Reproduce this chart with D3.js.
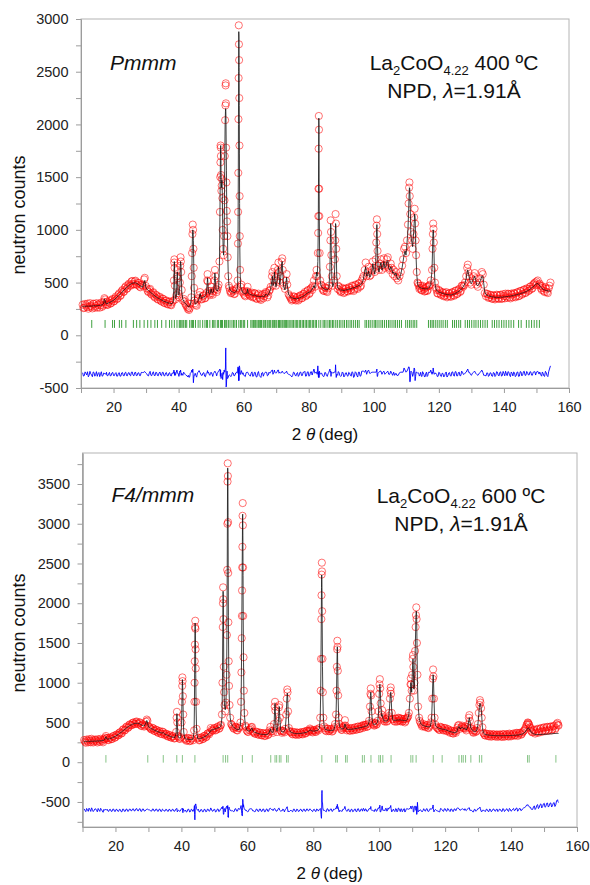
<!DOCTYPE html>
<html lang="en">
<head>
<meta charset="UTF-8">
<title>La2CoO4.22 neutron powder diffraction</title>
<script src="https://d3js.org/d3.v7.min.js"></script>
<style>
  body { margin: 0; background: #fff; }
  svg { display: block; font-family: "Liberation Sans", Arial, sans-serif; }
  .frame { fill: none; stroke: #b4b4b4; }
  .axis path, .axis line { stroke: #9c9c9c; }
  .axis text { font-size: 14.5px; fill: #222; font-family: "Liberation Sans", Arial, sans-serif; }
  .obs { fill: none; stroke: #ff0000; stroke-opacity: 0.62; stroke-width: 0.9; }
  .calc { fill: none; stroke: #111; stroke-width: 0.8; }
  .diff { fill: none; stroke: #0000ff; stroke-width: 0.9; }
  .bragg { stroke: #108a10; stroke-width: 1; }
  .label { font-size: 18px; fill: #111; }
  .note { font-size: 21px; fill: #111; }
</style>
</head>
<body>
<svg id="chart" width="590" height="885"></svg>
<script>
// axis ticks
const xTickLabels = [20, 40, 60, 80, 100, 120, 140, 160];
const xMinorTicks = [10, 30, 50, 70, 90, 110, 130, 150];
const topYTicks = [-500, 0, 500, 1000, 1500, 2000, 2500, 3000];
const topYMinor = [-250, 250, 750, 1250, 1750, 2250, 2750];
const bottomYTicks = [-500, 0, 500, 1000, 1500, 2000, 2500, 3000, 3500];
const bottomYMinor = [-750, -250, 250, 750, 1250, 1750, 2250, 2750, 3250, 3750];

// 400 C, Pmmm : [2theta, Iobs, Icalc]
const topProfile = [
  [10.5, 290, 275], [11.0, 262, 275], [11.5, 285, 276], [12.0, 300, 276], [12.5, 268, 277],
  [13.0, 281, 277], [13.5, 255, 278], [14.0, 296, 279], [14.5, 278, 280], [15.0, 262, 281],
  [15.5, 300, 283], [16.0, 286, 285], [16.5, 270, 288], [17.0, 318, 305], [17.2, 352, 345],
  [17.4, 340, 330], [17.7, 296, 298], [18.0, 288, 300], [18.5, 312, 308], [19.0, 300, 315],
  [19.5, 335, 322], [20.0, 320, 332], [20.5, 352, 345], [21.0, 342, 360], [21.5, 385, 375],
  [22.0, 372, 390], [22.5, 418, 405], [23.0, 410, 422], [23.5, 452, 438], [24.0, 440, 452],
  [24.5, 478, 466], [25.0, 472, 480], [25.5, 510, 490], [26.0, 488, 496], [26.5, 512, 498],
  [27.0, 482, 494], [27.5, 498, 485], [28.0, 462, 474], [28.5, 478, 462], [29.0, 470, 458],
  [29.4, 530, 505], [29.6, 545, 520], [29.9, 468, 455], [30.5, 420, 432], [31.0, 432, 418],
  [31.5, 395, 405], [32.0, 402, 390], [32.5, 368, 378], [33.0, 385, 366], [33.5, 345, 356],
  [34.0, 360, 347], [34.5, 330, 338], [35.0, 348, 330], [35.5, 310, 323], [36.0, 328, 316],
  [36.5, 298, 310], [37.0, 315, 305], [37.5, 290, 302], [38.0, 312, 300], [38.4, 330, 320],
  [38.55, 520, 480], [38.65, 690, 660], [38.7, 720, 700], [38.75, 640, 650], [38.85, 470, 450],
  [39.0, 340, 350], [39.3, 380, 360], [39.5, 560, 520], [39.6, 620, 600], [39.7, 540, 530],
  [39.85, 400, 390], [40.1, 360, 380], [40.4, 500, 470], [40.5, 660, 640], [40.6, 740, 700],
  [40.7, 700, 680], [40.8, 600, 610], [40.95, 430, 420], [41.3, 330, 340], [41.8, 320, 310],
  [42.3, 285, 295], [42.8, 250, 275], [43.2, 240, 270], [43.6, 300, 290], [43.9, 360, 340],
  [44.05, 560, 520], [44.15, 780, 760], [44.25, 960, 940], [44.35, 1050, 1000], [44.45, 1000, 990],
  [44.55, 820, 900], [44.65, 640, 680], [44.75, 450, 460], [44.9, 330, 340], [45.3, 290, 300],
  [45.8, 330, 315], [46.3, 380, 345], [46.6, 410, 395], [47.0, 340, 350], [47.5, 372, 360],
  [48.0, 350, 368], [48.5, 400, 390], [48.8, 520, 500], [48.9, 580, 545], [49.0, 510, 500],
  [49.2, 420, 400], [49.6, 380, 390], [50.0, 460, 440], [50.3, 400, 400], [50.7, 420, 410],
  [51.0, 520, 500], [51.15, 620, 590], [51.3, 560, 540], [51.5, 440, 430], [51.9, 430, 420],
  [52.3, 480, 450], [52.55, 700, 660], [52.7, 1170, 1120], [52.8, 1500, 1480], [52.85, 1640, 1660],
  [52.9, 1800, 1760], [52.95, 1780, 1800], [53.0, 1700, 1720], [53.05, 1520, 1560], [53.15, 1370, 1400],
  [53.25, 1420, 1440], [53.35, 1480, 1470], [53.45, 1300, 1320], [53.55, 1000, 1050], [53.7, 820, 800],
  [53.85, 760, 760], [54.0, 940, 900], [54.1, 1280, 1250], [54.2, 1700, 1680], [54.3, 2040, 2000],
  [54.4, 2180, 2120], [54.45, 2370, 2150], [54.5, 2390, 2140], [54.55, 2200, 2080], [54.6, 1780, 1900],
  [54.7, 1450, 1560], [54.8, 1180, 1200], [54.9, 1080, 1050], [55.0, 940, 980], [55.1, 740, 780],
  [55.25, 560, 590], [55.45, 470, 480], [55.8, 420, 430], [56.3, 405, 415], [56.8, 420, 408],
  [57.3, 395, 405], [57.8, 440, 420], [58.15, 520, 480], [58.25, 870, 800], [58.3, 1170, 1100],
  [58.35, 1540, 1500], [58.4, 2050, 2000], [58.45, 2440, 2500], [58.5, 2940, 2880], [58.55, 2760, 2820],
  [58.6, 2610, 2540], [58.65, 2250, 2180], [58.7, 1800, 1720], [58.75, 1320, 1250], [58.8, 940, 880],
  [58.9, 620, 620], [59.05, 460, 460], [59.3, 480, 445], [59.6, 410, 410], [60.0, 395, 400],
  [60.5, 370, 392], [61.0, 420, 400], [61.2, 460, 440], [61.4, 410, 400], [61.8, 380, 390],
  [62.3, 395, 385], [62.8, 360, 380], [63.3, 400, 382], [63.8, 350, 372], [64.3, 380, 370],
  [64.8, 355, 368], [65.3, 335, 365], [65.8, 390, 372], [66.3, 370, 365], [66.8, 410, 390],
  [67.3, 360, 375], [67.8, 420, 400], [68.3, 460, 440], [68.7, 560, 520], [68.85, 600, 560],
  [69.0, 470, 470], [69.3, 520, 500], [69.45, 640, 600], [69.6, 560, 540], [69.9, 470, 460],
  [70.2, 520, 500], [70.5, 620, 580], [70.7, 690, 650], [70.85, 600, 590], [71.1, 500, 480],
  [71.4, 560, 550], [71.7, 700, 680], [71.85, 730, 700], [72.0, 620, 600], [72.3, 470, 460],
  [72.7, 440, 430], [73.0, 520, 500], [73.2, 580, 550], [73.4, 480, 470], [73.8, 390, 390],
  [74.3, 360, 365], [74.8, 330, 355], [75.3, 370, 350], [75.8, 340, 348], [76.3, 355, 346],
  [76.8, 330, 350], [77.3, 375, 356], [77.8, 350, 362], [78.3, 390, 370], [78.8, 410, 382],
  [79.3, 380, 395], [79.8, 430, 405], [80.3, 400, 412], [80.8, 450, 425], [81.3, 470, 450],
  [81.6, 520, 470], [81.9, 460, 450], [82.2, 560, 540], [82.4, 620, 600], [82.6, 560, 560],
  [82.8, 780, 700], [82.9, 970, 940], [82.95, 1130, 1150], [83.0, 1390, 1420], [83.05, 1770, 1750],
  [83.1, 2080, 2060], [83.15, 1950, 1980], [83.2, 1390, 1420], [83.25, 1130, 1100], [83.35, 780, 760],
  [83.5, 520, 520], [83.8, 480, 470], [84.2, 440, 450], [84.7, 420, 440], [85.2, 450, 435],
  [85.7, 410, 430], [86.2, 470, 450], [86.5, 650, 600], [86.65, 900, 880], [86.75, 1090, 1060],
  [86.85, 980, 1000], [86.95, 760, 740], [87.1, 560, 540], [87.4, 470, 460], [87.8, 520, 500],
  [88.05, 720, 700], [88.15, 900, 880], [88.25, 1150, 1060], [88.35, 1060, 1040], [88.45, 820, 850],
  [88.6, 560, 560], [88.9, 440, 450], [89.3, 460, 440], [89.8, 410, 430], [90.3, 450, 428],
  [90.8, 400, 425], [91.3, 440, 428], [91.8, 420, 432], [92.3, 455, 436], [92.8, 430, 440],
  [93.3, 470, 446], [93.8, 420, 450], [94.3, 480, 456], [94.8, 450, 462], [95.3, 490, 470],
  [95.8, 460, 478], [96.3, 520, 490], [96.8, 560, 530], [97.2, 620, 600], [97.5, 690, 650],
  [97.8, 560, 560], [98.1, 600, 570], [98.4, 650, 610], [98.7, 560, 550], [99.0, 570, 560],
  [99.4, 620, 600], [99.7, 700, 680], [100.0, 640, 620], [100.3, 600, 580], [100.6, 720, 700],
  [100.75, 880, 860], [100.85, 1040, 1000], [100.95, 1100, 1050], [101.05, 960, 980], [101.15, 800, 820],
  [101.3, 660, 650], [101.6, 620, 600], [101.9, 680, 650], [102.2, 720, 690], [102.5, 620, 620],
  [102.8, 660, 640], [103.1, 730, 700], [103.4, 640, 640], [103.7, 660, 650], [104.0, 720, 700],
  [104.3, 740, 710], [104.6, 640, 640], [104.9, 620, 620], [105.2, 680, 650], [105.5, 640, 630],
  [105.8, 580, 590], [106.1, 620, 600], [106.4, 560, 570], [106.8, 600, 590], [107.1, 540, 550],
  [107.5, 520, 530], [107.9, 560, 545], [108.3, 600, 580], [108.7, 660, 640], [109.0, 720, 700],
  [109.3, 820, 760], [109.6, 840, 800], [109.9, 780, 760], [110.2, 900, 870], [110.5, 1050, 1000],
  [110.7, 1250, 1180], [110.85, 1400, 1330], [110.95, 1450, 1400], [111.05, 1320, 1390], [111.2, 1150, 1220],
  [111.4, 980, 950], [111.7, 900, 880], [111.95, 820, 840], [112.2, 960, 950], [112.4, 1120, 1060],
  [112.55, 1200, 1150], [112.7, 1060, 1120], [112.85, 900, 920], [113.0, 760, 740], [113.2, 600, 580],
  [113.45, 500, 490], [113.8, 470, 460], [114.2, 450, 455], [114.6, 430, 448], [115.0, 470, 445],
  [115.4, 440, 442], [115.8, 420, 440], [116.2, 460, 440], [116.6, 430, 442], [117.0, 470, 450],
  [117.5, 520, 480], [117.9, 620, 620], [118.05, 820, 800], [118.15, 960, 950], [118.25, 1060, 1000],
  [118.35, 1010, 980], [118.45, 880, 860], [118.6, 640, 640], [118.8, 500, 490], [119.1, 450, 440],
  [119.5, 400, 420], [120.0, 430, 410], [120.5, 390, 405], [121.0, 410, 400], [121.5, 370, 395],
  [122.0, 400, 390], [122.5, 360, 386], [123.0, 395, 384], [123.5, 370, 382], [124.0, 405, 384],
  [124.5, 380, 390], [125.0, 420, 396], [125.5, 390, 405], [126.0, 430, 414], [126.5, 410, 425],
  [127.0, 470, 440], [127.5, 460, 460], [128.0, 500, 490], [128.4, 560, 540], [128.7, 640, 600],
  [128.9, 670, 620], [129.1, 600, 580], [129.4, 560, 540], [129.7, 500, 500], [130.0, 480, 490],
  [130.3, 520, 510], [130.7, 560, 540], [131.0, 590, 560], [131.3, 540, 530], [131.6, 480, 480],
  [132.0, 460, 470], [132.4, 500, 490], [132.8, 540, 520], [133.2, 600, 560], [133.5, 580, 560],
  [133.8, 480, 490], [134.1, 400, 410], [134.5, 370, 385], [135.0, 390, 378], [135.5, 360, 372],
  [136.0, 380, 368], [136.5, 345, 364], [137.0, 375, 362], [137.5, 350, 360], [138.0, 380, 360],
  [138.5, 345, 360], [139.0, 385, 362], [139.5, 350, 362], [140.0, 372, 364], [140.5, 395, 366],
  [141.0, 355, 368], [141.5, 390, 370], [142.0, 350, 372], [142.5, 385, 375], [143.0, 400, 378],
  [143.5, 360, 382], [144.0, 405, 386], [144.5, 370, 390], [145.0, 420, 395], [145.5, 385, 400],
  [146.0, 430, 405], [146.5, 400, 410], [147.0, 445, 418], [147.5, 420, 426], [148.0, 460, 436],
  [148.5, 440, 448], [149.0, 480, 460], [149.5, 500, 475], [150.0, 510, 488], [150.4, 520, 492],
  [150.8, 480, 478], [151.2, 470, 460], [151.6, 430, 448], [152.0, 450, 438], [152.5, 410, 430],
  [153.0, 440, 425], [153.5, 400, 422], [154.0, 470, 420], [154.3, 500, 420]
];

// extra background steps of the 400 C scan
const topProfileFill = [
  [10.75, 258, 275], [11.25, 298, 275], [11.75, 270, 276], [12.25, 252, 276], [12.75, 305, 277],
  [13.25, 272, 278], [13.75, 300, 278], [14.25, 262, 280], [14.75, 305, 280], [15.25, 288, 282],
  [15.75, 262, 284], [16.25, 310, 286], [16.75, 282, 295], [17.85, 318, 299], [18.25, 290, 304],
  [18.75, 330, 312], [19.25, 305, 318], [19.75, 345, 327], [20.25, 325, 338], [20.75, 368, 352],
  [21.25, 350, 367], [21.75, 398, 382], [22.25, 380, 397], [22.75, 430, 413], [23.25, 415, 430],
  [23.75, 465, 445], [24.25, 445, 459], [24.75, 490, 473], [25.25, 470, 485], [25.75, 515, 493],
  [26.25, 482, 497], [26.75, 518, 496], [27.25, 478, 490], [27.75, 495, 480], [28.25, 455, 468],
  [28.75, 480, 460], [30.2, 445, 440], [30.75, 410, 425], [31.25, 440, 412], [31.75, 385, 398],
  [32.25, 408, 384], [32.75, 358, 372], [33.25, 378, 361], [33.75, 338, 352], [34.25, 365, 343],
  [34.75, 320, 334], [35.25, 345, 326], [35.75, 305, 320], [36.25, 330, 313], [36.75, 292, 308],
  [37.25, 320, 304], [37.75, 285, 301], [41.55, 345, 325], [42.05, 300, 302], [42.55, 272, 285],
  [43.0, 262, 272], [43.4, 255, 280], [45.1, 305, 295], [45.55, 280, 307], [46.05, 350, 330],
  [47.25, 345, 355], [47.75, 380, 364], [48.25, 355, 378], [49.4, 395, 395], [49.8, 420, 410],
  [50.5, 385, 405], [51.7, 410, 425], [52.1, 455, 435], [55.6, 450, 455], [56.05, 400, 422],
  [56.55, 430, 412], [57.05, 390, 406], [57.55, 425, 412], [58.0, 450, 440], [59.8, 420, 405],
  [60.25, 380, 396], [60.75, 410, 396], [61.6, 390, 395], [62.05, 370, 388], [62.55, 405, 382],
  [63.05, 365, 381], [63.55, 395, 377], [64.05, 345, 371], [64.55, 395, 369], [65.05, 345, 366],
  [65.55, 380, 368], [66.05, 350, 368], [66.55, 395, 378], [67.05, 400, 382], [67.55, 380, 388],
  [68.05, 430, 420], [74.05, 375, 378], [74.55, 345, 360], [75.05, 340, 352], [75.55, 365, 349],
  [76.05, 330, 347], [76.55, 365, 348], [77.05, 345, 353], [77.55, 380, 359], [78.05, 355, 366],
  [78.55, 395, 376], [79.05, 370, 388], [79.55, 420, 400], [80.05, 390, 408], [80.55, 440, 418],
  [81.05, 430, 437], [84.0, 470, 460], [84.45, 425, 445], [84.95, 455, 438], [85.45, 420, 432],
  [85.95, 445, 440], [89.05, 470, 445], [89.55, 425, 435], [90.05, 415, 429], [90.55, 440, 426],
  [91.05, 410, 426], [91.55, 445, 430], [92.05, 415, 434], [92.55, 450, 438], [93.05, 425, 443],
  [93.55, 465, 448], [94.05, 435, 453], [94.55, 475, 459], [95.05, 440, 466], [95.55, 495, 474],
  [96.05, 470, 484], [96.55, 540, 510], [113.6, 490, 475], [114.0, 440, 457], [114.4, 470, 451],
  [114.8, 425, 446], [115.2, 455, 443], [115.6, 415, 441], [116.0, 450, 440], [116.4, 420, 441],
  [116.8, 465, 446], [117.25, 480, 465], [119.3, 430, 430], [119.75, 395, 415], [120.25, 420, 407],
  [120.75, 380, 402], [121.25, 405, 397], [121.75, 375, 392], [122.25, 410, 388], [122.75, 370, 385],
  [123.25, 400, 383], [123.75, 365, 383], [124.25, 410, 387], [124.75, 375, 393], [125.25, 425, 400],
  [125.75, 395, 410], [126.25, 440, 419], [126.75, 420, 432], [127.25, 470, 450], [127.75, 475, 475],
  [134.75, 395, 381], [135.25, 355, 375], [135.75, 385, 370], [136.25, 350, 366], [136.75, 380, 363],
  [137.25, 340, 361], [137.75, 385, 360], [138.25, 350, 360], [138.75, 380, 361], [139.25, 345, 362],
  [139.75, 390, 363], [140.25, 350, 365], [140.75, 370, 367], [141.25, 395, 369], [141.75, 360, 371],
  [142.25, 395, 373], [142.75, 360, 376], [143.25, 395, 380], [143.75, 370, 384], [144.25, 410, 388],
  [144.75, 375, 392], [145.25, 420, 397], [145.75, 395, 402], [146.25, 435, 407], [146.75, 405, 414],
  [147.25, 440, 422], [147.75, 425, 431], [148.25, 465, 442], [148.75, 445, 454], [149.25, 490, 467],
  [149.75, 475, 482], [151.0, 490, 469], [151.4, 445, 454], [151.8, 465, 443], [152.25, 420, 434],
  [152.75, 455, 427], [153.25, 410, 423], [153.75, 445, 421]
];

// Pmmm reflection positions (2theta)
const topBragg = [
  13.3, 17.4, 19.7, 20.3, 21.8, 22.5, 23.8, 26.1, 27.1, 28.1, 29.4, 30.5, 31.5, 32.7, 33.5,
  34.8, 36.1, 37.2, 37.9, 38.7, 39.5, 40.2, 40.5, 40.8, 41.3, 41.6, 42.1, 42.5, 43.4, 43.9,
  44.3, 44.6, 45.2, 46.0, 46.6, 47.4, 48.1, 48.6, 48.9, 49.6, 50.4, 50.8, 51.2, 51.9, 52.3,
  52.9, 53.2, 53.5, 54.1, 54.5, 54.8, 55.3, 55.8, 56.4, 56.9, 57.3, 57.8, 58.5, 59.0, 59.4,
  59.9, 60.3, 61.2, 62.2, 62.6, 63.0, 63.4, 63.7, 64.1, 64.5, 64.8, 65.2, 65.5, 66.0, 66.3,
  66.7, 67.2, 67.5, 67.9, 68.3, 68.8, 69.1, 69.5, 69.9, 70.2, 70.7, 71.0, 71.4, 71.8, 72.1,
  72.5, 72.9, 73.2, 73.6, 74.0, 74.5, 74.9, 75.3, 75.8, 76.2, 76.6, 77.1, 77.5, 78.0, 78.4,
  78.9, 79.3, 79.8, 80.2, 80.6, 81.1, 81.5, 82.0, 82.4, 83.1, 83.7, 84.4, 84.8, 85.3, 85.9,
  86.4, 86.8, 87.3, 87.7, 88.3, 88.8, 89.4, 89.9, 90.5, 91.0, 91.6, 92.1, 92.7, 93.2, 93.8,
  94.4, 95.0, 95.5, 97.3, 97.8, 98.4, 98.9, 99.5, 100.1, 100.5, 101.0, 101.6, 102.2, 102.7,
  103.3, 103.9, 104.5, 105.0, 105.6, 106.2, 106.7, 107.3, 107.9, 108.5, 109.8, 110.4, 111.0,
  111.5, 112.1, 112.6, 113.2, 116.8, 117.4, 117.9, 118.3, 118.9, 119.5, 120.1, 120.7, 121.3,
  122.0, 122.6, 124.2, 124.8, 125.4, 126.1, 126.7, 128.1, 128.8, 129.4, 130.1, 130.8, 131.4,
  132.1, 132.8, 133.5, 134.2, 134.9, 136.4, 137.1, 137.8, 138.5, 139.3, 140.0, 140.7, 141.5,
  142.2, 143.0, 144.5, 145.3, 146.9, 147.7, 148.5, 149.3, 150.1, 150.9
];

// 600 C, F4/mmm : [2theta, Iobs, Icalc]
const bottomProfile = [
  [10.5, 280, 262], [11.0, 245, 262], [11.5, 270, 263], [12.0, 290, 263], [12.5, 250, 264],
  [13.0, 275, 264], [13.5, 262, 265], [14.0, 285, 266], [14.5, 248, 267], [15.0, 272, 268],
  [15.5, 295, 270], [16.0, 265, 273], [16.5, 290, 278], [16.9, 310, 300], [17.1, 330, 320],
  [17.3, 300, 296], [17.7, 282, 290], [18.2, 305, 295], [18.7, 290, 302], [19.2, 325, 310],
  [19.7, 308, 320], [20.2, 345, 332], [20.7, 335, 346], [21.2, 372, 360], [21.7, 360, 376],
  [22.2, 408, 392], [22.7, 398, 410], [23.2, 440, 426], [23.7, 430, 442], [24.2, 470, 456],
  [24.7, 462, 468], [25.2, 495, 478], [25.7, 478, 486], [26.2, 508, 490], [26.7, 486, 490],
  [27.2, 500, 484], [27.7, 462, 474], [28.2, 478, 462], [28.7, 448, 455], [29.3, 510, 500],
  [29.5, 537, 525], [29.7, 520, 505], [30.0, 452, 445], [30.5, 430, 432], [31.0, 410, 420],
  [31.5, 425, 410], [32.0, 392, 400], [32.5, 405, 390], [33.0, 370, 382], [33.5, 388, 374],
  [34.0, 355, 368], [34.5, 378, 372], [35.0, 340, 352], [35.5, 355, 344], [36.0, 322, 336],
  [36.5, 338, 328], [37.0, 310, 320], [37.5, 325, 314], [38.0, 300, 310], [38.4, 380, 360],
  [38.55, 560, 540], [38.65, 634, 610], [38.75, 500, 520], [38.9, 330, 340], [39.3, 300, 305],
  [39.8, 315, 310], [40.05, 500, 480], [40.15, 760, 740], [40.25, 960, 940], [40.3, 1067, 1040],
  [40.35, 1020, 1000], [40.45, 830, 860], [40.55, 600, 580], [40.7, 380, 380], [41.0, 290, 300],
  [41.5, 270, 292], [42.0, 305, 290], [42.5, 265, 286], [43.0, 300, 286], [43.5, 275, 290],
  [43.85, 400, 380], [43.95, 760, 700], [44.0, 1000, 1050], [44.05, 1270, 1380], [44.1, 1480, 1600],
  [44.15, 1700, 1750], [44.2, 1780, 1730], [44.25, 1680, 1600], [44.3, 1420, 1350], [44.35, 1180, 1100],
  [44.45, 760, 700], [44.6, 420, 400], [44.9, 300, 300], [45.4, 275, 295], [45.9, 310, 300],
  [46.4, 290, 308], [46.9, 330, 318], [47.4, 312, 330], [47.9, 360, 345], [48.4, 350, 362],
  [48.9, 430, 400], [49.2, 410, 405], [49.6, 400, 410], [50.1, 430, 418], [50.6, 410, 425],
  [51.1, 450, 432], [51.6, 430, 440], [52.0, 470, 455], [52.3, 600, 560], [52.45, 1000, 980],
  [52.55, 1700, 1650], [52.6, 2000, 1950], [52.65, 2200, 2150], [52.7, 2050, 2080], [52.75, 1800, 1850],
  [52.85, 1200, 1250], [52.95, 880, 860], [53.1, 720, 700], [53.3, 640, 660], [53.5, 750, 720],
  [53.7, 1100, 1050], [53.8, 1600, 1550], [53.9, 2420, 2400], [53.95, 3000, 2950], [54.0, 3530, 3500],
  [54.05, 3760, 3700], [54.1, 3600, 3620], [54.15, 3020, 3100], [54.2, 2380, 2450], [54.25, 1760, 1850],
  [54.35, 1270, 1250], [54.45, 960, 920], [54.6, 720, 700], [54.8, 560, 560], [55.1, 480, 490],
  [55.5, 450, 455], [56.0, 420, 435], [56.5, 440, 420], [57.0, 400, 410], [57.5, 430, 408],
  [57.9, 500, 470], [58.1, 760, 700], [58.2, 1130, 1100], [58.3, 1560, 1600], [58.35, 1840, 1900],
  [58.4, 2160, 2220], [58.45, 2450, 2520], [58.5, 2710, 2780], [58.55, 3100, 3100], [58.6, 3260, 3120],
  [58.65, 2980, 2850], [58.7, 2450, 2350], [58.75, 1840, 1800], [58.85, 1320, 1250], [58.95, 900, 860],
  [59.1, 620, 600], [59.4, 460, 460], [59.8, 400, 410], [60.3, 380, 395], [60.8, 410, 392],
  [61.2, 440, 420], [61.4, 445, 430], [61.7, 385, 395], [62.2, 360, 378], [62.7, 385, 370],
  [63.2, 350, 362], [63.7, 372, 356], [64.2, 340, 352], [64.7, 365, 350], [65.2, 330, 348],
  [65.7, 360, 348], [66.2, 340, 352], [66.7, 400, 380], [67.0, 445, 420], [67.3, 390, 380],
  [67.8, 370, 375], [68.1, 480, 460], [68.3, 700, 680], [68.4, 760, 740], [68.5, 650, 640],
  [68.7, 430, 440], [69.0, 380, 390], [69.4, 520, 500], [69.6, 690, 660], [69.7, 718, 700],
  [69.85, 560, 560], [70.1, 400, 410], [70.5, 370, 380], [71.0, 390, 380], [71.5, 420, 410],
  [71.8, 600, 580], [71.95, 800, 760], [72.1, 915, 870], [72.2, 880, 860], [72.35, 640, 660],
  [72.6, 430, 440], [73.0, 380, 385], [73.5, 360, 372], [74.0, 380, 366], [74.5, 350, 362],
  [75.0, 375, 360], [75.5, 345, 360], [76.0, 372, 362], [76.5, 355, 364], [77.0, 380, 368],
  [77.5, 360, 372], [78.0, 395, 378], [78.5, 380, 388], [79.0, 424, 405], [79.4, 400, 398],
  [79.8, 375, 392], [80.3, 405, 392], [80.8, 380, 396], [81.3, 410, 400], [81.8, 430, 420],
  [82.1, 560, 540], [82.25, 900, 880], [82.35, 1300, 1350], [82.45, 1800, 1900], [82.5, 2100, 2200],
  [82.55, 2360, 2355], [82.6, 2510, 2300], [82.65, 2400, 2150], [82.7, 1900, 1800], [82.8, 1300, 1200],
  [82.9, 880, 850], [83.05, 560, 560], [83.3, 450, 450], [83.7, 400, 412], [84.2, 425, 405],
  [84.7, 390, 402], [85.2, 415, 400], [85.7, 385, 400], [86.2, 420, 405], [86.6, 480, 460],
  [86.9, 600, 580], [87.05, 900, 850], [87.15, 1200, 1150], [87.25, 1420, 1400], [87.3, 1528, 1452],
  [87.35, 1450, 1400], [87.45, 1150, 1100], [87.55, 840, 800], [87.7, 560, 560], [88.0, 450, 450],
  [88.5, 410, 420], [89.0, 430, 415], [89.4, 460, 440], [89.6, 529, 480], [89.8, 460, 450],
  [90.2, 400, 414], [90.7, 430, 412], [91.2, 395, 414], [91.7, 430, 416], [92.2, 405, 418],
  [92.7, 440, 422], [93.2, 410, 426], [93.7, 450, 430], [94.2, 420, 434], [94.7, 455, 438],
  [95.2, 470, 445], [95.6, 440, 450], [96.0, 470, 455], [96.5, 450, 462], [96.9, 520, 500],
  [97.2, 700, 680], [97.35, 860, 840], [97.45, 928, 880], [97.55, 840, 830], [97.7, 640, 640],
  [97.95, 500, 500], [98.3, 470, 475], [98.7, 490, 478], [99.1, 470, 482], [99.5, 520, 500],
  [99.8, 640, 620], [100.0, 860, 820], [100.1, 980, 950], [100.2, 1045, 980], [100.3, 930, 950],
  [100.45, 740, 760], [100.7, 600, 580], [100.9, 655, 600], [101.1, 560, 560], [101.5, 520, 520],
  [101.9, 540, 518], [102.3, 510, 520], [102.7, 560, 530], [103.0, 620, 600], [103.25, 800, 760],
  [103.4, 900, 860], [103.5, 941, 880], [103.6, 860, 840], [103.8, 620, 640], [104.1, 540, 540],
  [104.5, 520, 525], [105.0, 550, 528], [105.4, 510, 530], [105.8, 560, 532], [106.2, 530, 532],
  [106.6, 550, 530], [107.0, 510, 528], [107.4, 540, 525], [107.8, 500, 522], [108.2, 540, 525],
  [108.6, 560, 540], [109.0, 620, 600], [109.3, 800, 780], [109.5, 980, 950], [109.6, 1054, 1000],
  [109.7, 980, 960], [109.85, 900, 880], [110.0, 1100, 1050], [110.15, 1300, 1250], [110.25, 1348, 1300],
  [110.35, 1200, 1220], [110.5, 900, 920], [110.7, 1000, 950], [110.9, 1400, 1350], [111.05, 1700, 1650],
  [111.15, 1850, 1850], [111.25, 1948, 1900], [111.35, 1800, 1850], [111.45, 1500, 1550], [111.6, 1100, 1000],
  [111.8, 700, 720], [112.1, 560, 560], [112.5, 500, 492], [113.0, 450, 470], [113.5, 480, 460],
  [114.0, 440, 452], [114.5, 470, 448], [115.0, 430, 445], [115.5, 470, 448], [115.9, 560, 540],
  [116.1, 800, 780], [116.25, 1050, 1000], [116.35, 1167, 1100], [116.45, 1080, 1060], [116.6, 800, 820],
  [116.8, 560, 560], [117.1, 470, 460], [117.6, 430, 438], [118.1, 410, 428], [118.6, 445, 422],
  [119.0, 430, 418], [119.5, 400, 414], [120.0, 430, 410], [120.5, 390, 402], [121.0, 410, 394],
  [121.5, 370, 386], [122.0, 395, 380], [122.5, 360, 374], [123.0, 385, 370], [123.5, 400, 380],
  [123.9, 460, 430], [124.2, 470, 450], [124.5, 420, 420], [124.9, 440, 430], [125.2, 460, 440],
  [125.6, 430, 420], [126.0, 450, 430], [126.4, 400, 405], [126.9, 470, 450], [127.2, 560, 530],
  [127.35, 592, 560], [127.5, 520, 520], [127.8, 430, 430], [128.2, 400, 410], [128.6, 370, 390],
  [129.0, 400, 385], [129.5, 390, 395], [129.9, 480, 460], [130.2, 620, 600], [130.4, 720, 690],
  [130.55, 781, 740], [130.7, 750, 730], [130.9, 680, 690], [131.1, 560, 580], [131.3, 440, 440],
  [131.6, 370, 370], [132.0, 340, 352], [132.5, 360, 346], [133.0, 330, 342], [133.5, 355, 340],
  [134.0, 320, 338], [134.5, 350, 336], [135.0, 330, 335], [135.5, 345, 334], [136.0, 318, 334],
  [136.5, 350, 334], [137.0, 325, 334], [137.5, 355, 334], [138.0, 320, 335], [138.5, 348, 335],
  [139.0, 330, 336], [139.5, 360, 336], [140.0, 325, 337], [140.5, 352, 338], [141.0, 335, 339],
  [141.5, 365, 340], [142.0, 330, 342], [142.5, 368, 345], [143.0, 345, 350], [143.5, 375, 356],
  [144.0, 400, 368], [144.5, 440, 392], [144.9, 480, 420], [145.2, 495, 432], [145.5, 470, 420],
  [145.9, 430, 392], [146.3, 380, 370], [146.8, 400, 358], [147.3, 360, 350], [147.8, 410, 348],
  [148.3, 370, 348], [148.8, 420, 348], [149.3, 380, 350], [149.8, 430, 350], [150.3, 390, 352],
  [150.8, 440, 352], [151.3, 395, 354], [151.8, 445, 356], [152.3, 400, 358], [152.8, 450, 360],
  [153.3, 410, 362], [153.8, 480, 362], [154.1, 495, 362], [154.4, 460, 362]
];

// extra background steps of the 600 C scan
const bottomProfileFill = [
  [10.75, 260, 262], [11.25, 285, 262], [11.75, 250, 263], [12.25, 272, 263], [12.75, 295, 264],
  [13.25, 248, 264], [13.75, 282, 265], [14.25, 265, 266], [14.75, 290, 267], [15.25, 255, 269],
  [15.75, 280, 271], [16.25, 250, 275], [16.7, 285, 285], [17.5, 305, 292], [17.95, 278, 292],
  [18.45, 310, 298], [18.95, 292, 306], [19.45, 330, 315], [19.95, 312, 326], [20.45, 350, 339],
  [20.95, 340, 353], [21.45, 378, 368], [21.95, 365, 384], [22.45, 415, 401], [22.95, 405, 418],
  [23.45, 450, 434], [23.95, 438, 449], [24.45, 478, 462], [24.95, 468, 473], [25.45, 500, 482],
  [25.95, 482, 488], [26.45, 512, 490], [26.95, 480, 487], [27.45, 500, 479], [27.95, 455, 468],
  [28.45, 475, 458], [28.95, 460, 470], [30.25, 445, 438], [30.75, 418, 426], [31.25, 432, 415],
  [31.75, 395, 405], [32.25, 410, 395], [32.75, 375, 386], [33.25, 392, 378], [33.75, 358, 371],
  [34.25, 385, 370], [34.75, 355, 362], [35.25, 360, 348], [35.75, 330, 340], [36.25, 345, 332],
  [36.75, 312, 324], [37.25, 330, 317], [37.75, 300, 312], [39.1, 320, 318], [39.55, 292, 306],
  [41.25, 300, 296], [41.75, 275, 291], [42.25, 300, 288], [42.75, 270, 286], [43.25, 295, 288],
  [45.15, 310, 297], [45.65, 280, 297], [46.15, 312, 304], [46.65, 295, 313], [47.15, 335, 324],
  [47.65, 322, 337], [48.15, 365, 353], [48.65, 375, 380], [49.4, 395, 407], [49.85, 425, 414],
  [50.35, 400, 421], [50.85, 440, 428], [51.35, 420, 436], [51.8, 460, 447], [55.3, 470, 472],
  [55.75, 430, 445], [56.25, 445, 427], [56.75, 405, 415], [57.25, 430, 409], [57.7, 450, 440],
  [59.6, 440, 435], [60.05, 385, 402], [60.55, 405, 393], [61.0, 425, 405], [61.95, 380, 386],
  [62.45, 360, 374], [62.95, 380, 366], [63.45, 345, 359], [63.95, 370, 354], [64.45, 338, 351],
  [64.95, 365, 349], [65.45, 332, 348], [65.95, 368, 350], [66.45, 352, 364], [67.55, 390, 377],
  [70.3, 390, 395], [70.75, 395, 380], [71.25, 375, 395], [72.8, 395, 410], [73.25, 380, 378],
  [73.75, 350, 369], [74.25, 378, 364], [74.75, 345, 361], [75.25, 370, 360], [75.75, 350, 361],
  [76.25, 378, 363], [76.75, 350, 366], [77.25, 385, 370], [77.75, 365, 375], [78.25, 398, 383],
  [78.75, 395, 396], [79.2, 410, 402], [79.6, 385, 395], [80.05, 400, 392], [80.55, 385, 394],
  [81.05, 415, 398], [81.55, 400, 410], [83.5, 425, 430], [83.95, 390, 408], [84.45, 420, 404],
  [84.95, 395, 401], [85.45, 418, 400], [85.95, 395, 402], [86.4, 440, 430], [87.85, 480, 500],
  [88.25, 430, 435], [88.75, 405, 418], [89.2, 440, 428], [90.0, 430, 432], [90.45, 420, 413],
  [90.95, 400, 413], [91.45, 425, 415], [91.95, 400, 417], [92.45, 430, 420], [92.95, 410, 424],
  [93.45, 445, 428], [93.95, 420, 432], [94.45, 450, 436], [94.95, 430, 441], [95.4, 460, 448],
  [95.8, 470, 452], [96.25, 445, 458], [96.7, 485, 480], [98.15, 480, 485], [98.5, 460, 476],
  [98.9, 495, 480], [99.3, 480, 490], [101.3, 540, 540], [101.7, 510, 519], [102.1, 545, 519],
  [102.5, 520, 525], [102.85, 580, 565], [104.3, 545, 530], [104.75, 510, 526], [105.2, 545, 529],
  [105.6, 520, 531], [106.0, 555, 532], [106.4, 515, 531], [106.8, 545, 529], [107.2, 520, 526],
  [107.6, 545, 523], [108.0, 515, 523], [108.4, 555, 532], [108.8, 580, 570], [112.3, 520, 525],
  [112.75, 475, 480], [113.25, 460, 465], [113.75, 455, 456], [114.25, 465, 450], [114.75, 435, 446],
  [115.25, 450, 446], [115.7, 500, 490], [117.35, 445, 448], [117.85, 425, 433], [118.35, 405, 425],
  [118.8, 440, 420], [119.25, 410, 416], [119.75, 430, 412], [120.25, 400, 406], [120.75, 420, 398],
  [121.25, 385, 390], [121.75, 400, 383], [122.25, 365, 377], [122.75, 390, 372], [123.25, 370, 375],
  [123.7, 435, 405], [125.4, 445, 430], [125.8, 425, 425], [126.2, 420, 418], [126.65, 440, 428],
  [128.0, 420, 420], [128.4, 380, 400], [128.8, 395, 387], [129.25, 380, 390], [129.7, 430, 428],
  [131.8, 360, 360], [132.25, 335, 349], [132.75, 355, 344], [133.25, 325, 341], [133.75, 350, 339],
  [134.25, 330, 337], [134.75, 352, 335], [135.25, 322, 334], [135.75, 350, 334], [136.25, 330, 334],
  [136.75, 345, 334], [137.25, 318, 334], [137.75, 350, 334], [138.25, 330, 335], [138.75, 355, 335],
  [139.25, 322, 336], [139.75, 350, 336], [140.25, 335, 337], [140.75, 362, 338], [141.25, 340, 339],
  [141.75, 370, 341], [142.25, 345, 343], [142.75, 370, 347], [143.25, 355, 353], [143.75, 390, 362],
  [144.25, 420, 380], [144.7, 470, 405], [145.05, 500, 428], [145.35, 480, 428], [145.7, 440, 405],
  [146.1, 395, 380], [146.55, 375, 364], [147.05, 410, 354], [147.55, 375, 349], [148.05, 420, 348],
  [148.55, 385, 348], [149.05, 430, 349], [149.55, 395, 350], [150.05, 440, 351], [150.55, 400, 352],
  [151.05, 445, 353], [151.55, 410, 355], [152.05, 450, 357], [152.55, 415, 359], [153.05, 460, 361],
  [153.55, 430, 362], [154.25, 470, 362]
];

// F4/mmm reflection positions (2theta)
const bottomBragg = [
  17.1, 29.8, 34.5, 38.6, 40.3, 44.1, 52.65, 53.4, 54.05, 58.5, 61.5, 67.1, 68.4, 68.9, 69.7,
  70.2, 71.9, 72.4, 82.6, 86.8, 87.3, 89.8, 90.3, 94.9, 95.5, 97.5, 99.9, 100.4, 101.1, 103.6,
  109.6, 110.2, 111.2, 116.4, 119.1, 124.2, 125.0, 125.5, 126.2, 127.8, 130.4, 131.1, 145.0,
  145.5, 153.6
];

const byAngle = (a, b) => a[0] - b[0];

const svg = d3.select("#chart");

const panels = [
  {
    profile: topProfile.concat(topProfileFill).sort(byAngle),
    bragg: topBragg, braggSpan: [70, 145], braggOpacity: 0.8, diffOffset: -370,
    left: 81, right: 569, top: 19, bottom: 388, yDomain: [-500, 3000],
    yTicks: topYTicks, yMinor: topYMinor, labelY: 215,
    phase: "Pmmm", temp: "400 ºC", phaseY: 70, noteX: 454, noteY: 70
  },
  {
    profile: bottomProfile.concat(bottomProfileFill).sort(byAngle),
    bragg: bottomBragg, braggSpan: [-5, 90], braggOpacity: 0.5, diffOffset: -605,
    left: 82.5, right: 577, top: 453, bottom: 827, yDomain: [-815, 3890],
    yTicks: bottomYTicks, yMinor: bottomYMinor, labelY: 633,
    phase: "F4/mmm", temp: "600 ºC", phaseY: 502, noteX: 461, noteY: 503
  }
];

function drawPanel(p) {
  const x = d3.scaleLinear().domain([10, 160]).range([p.left, p.right]);
  const y = d3.scaleLinear().domain(p.yDomain).range([p.bottom, p.top]);
  const g = svg.append("g");

  g.append("rect")
    .attr("class", "frame")
    .attr("x", p.left).attr("y", p.top)
    .attr("width", p.right - p.left)
    .attr("height", p.bottom - p.top);

  // x axis, labelled every 20, extra ticks every 10
  g.append("g")
    .attr("class", "axis")
    .attr("transform", `translate(0,${p.bottom})`)
    .call(d3.axisBottom(x).tickValues(xTickLabels).tickFormat(d => String(d))
      .tickSize(5).tickSizeOuter(0).tickPadding(9));
  g.append("g")
    .attr("class", "axis")
    .attr("transform", `translate(0,${p.bottom})`)
    .call(d3.axisBottom(x).tickValues(xMinorTicks).tickFormat("")
      .tickSize(5).tickSizeOuter(0));

  // y axis
  g.append("g")
    .attr("class", "axis")
    .attr("transform", `translate(${p.left},0)`)
    .call(d3.axisLeft(y).tickValues(p.yTicks).tickFormat(d => String(d))
      .tickSize(5).tickSizeOuter(0).tickPadding(7.5));
  g.append("g")
    .attr("class", "axis")
    .attr("transform", `translate(${p.left},0)`)
    .call(d3.axisLeft(y).tickValues(p.yMinor).tickFormat("")
      .tickSize(5).tickSizeOuter(0));

  // Bragg positions
  g.selectAll(".bragg")
    .data(p.bragg)
    .enter().append("line")
    .attr("class", "bragg")
    .attr("stroke-opacity", p.braggOpacity)
    .attr("x1", d => x(d)).attr("x2", d => x(d))
    .attr("y1", y(p.braggSpan[0])).attr("y2", y(p.braggSpan[1]));

  // difference curve, Iobs - Icalc shifted down
  g.append("path")
    .datum(p.profile)
    .attr("class", "diff")
    .attr("d", d3.line().x(d => x(d[0])).y(d => y(d[1] - d[2] + p.diffOffset)));

  // observed points
  g.selectAll(".obs")
    .data(p.profile)
    .enter().append("circle")
    .attr("class", "obs")
    .attr("cx", d => x(d[0]))
    .attr("cy", d => y(d[1]))
    .attr("r", 3.6);

  // calculated profile
  g.append("path")
    .datum(p.profile)
    .attr("class", "calc")
    .attr("d", d3.line().x(d => x(d[0])).y(d => y(d[2])));

  // labels
  g.append("text")
    .attr("class", "label")
    .attr("text-anchor", "middle")
    .attr("transform", `translate(25,${p.labelY}) rotate(-90)`)
    .text("neutron counts");

  const xl = g.append("text")
    .attr("class", "label")
    .style("font-size", "17px")
    .attr("text-anchor", "middle")
    .attr("x", (p.left + p.right) / 2)
    .attr("y", p.bottom + 52);
  xl.append("tspan").text("2 ");
  xl.append("tspan").style("font-style", "italic").text("θ");
  xl.append("tspan").text("\u2009(deg)");

  g.append("text")
    .attr("class", "note")
    .attr("x", p.left + 29)
    .attr("y", p.phaseY)
    .style("font-style", "italic")
    .text(p.phase);

  const t1 = g.append("text")
    .attr("class", "note")
    .attr("text-anchor", "middle")
    .attr("x", p.noteX)
    .attr("y", p.noteY);
  t1.append("tspan").text("La");
  t1.append("tspan").attr("font-size", 13).attr("dy", 5).text("2");
  t1.append("tspan").attr("dy", -5).text("CoO");
  t1.append("tspan").attr("font-size", 13).attr("dy", 5).text("4.22");
  t1.append("tspan").attr("dy", -5).text("\u00a0" + p.temp);

  const t2 = g.append("text")
    .attr("class", "note")
    .attr("text-anchor", "middle")
    .attr("x", p.noteX)
    .attr("y", p.noteY + 28);
  t2.append("tspan").text("NPD, ");
  t2.append("tspan").style("font-style", "italic").text("λ");
  t2.append("tspan").text("=1.91Å");
}

panels.forEach(drawPanel);
</script>
</body>
</html>
